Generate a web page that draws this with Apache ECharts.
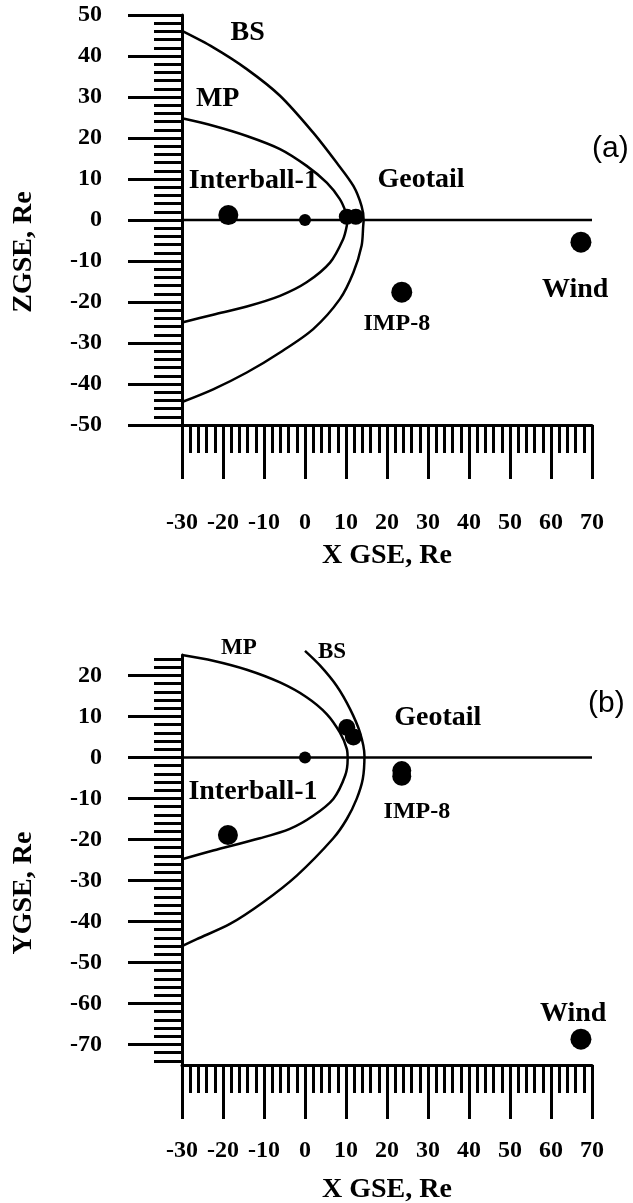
<!DOCTYPE html>
<html>
<head>
<meta charset="utf-8">
<script src="https://cdn.jsdelivr.net/npm/echarts@6/dist/echarts.min.js"></script>
<style>
  html, body { margin: 0; padding: 0; background: #fff; }
  #chart { width: 633px; height: 1203px; }
</style>
</head>
<body>
<div id="chart"></div>
<script>
// panel (a): X-Z plane, panel (b): X-Y plane (GSE, Re)
var mpA = [[-30,24.8],[-22.4,23.0],[-14.2,20.5],[-6.1,17.3],[0.4,13.2],[5.3,9.1],[8.5,5.1],[10.0,1.8],[10.3,0.2],[10.2,-1.4],[9.3,-4.7],[6.1,-10.4],[0.4,-15.2],[-6.1,-18.5],[-14.2,-21.1],[-22.4,-23.1],[-30,-25.0]];
var bsA = [[-30,46.1],[-22.4,42.1],[-14.2,36.8],[-6.1,30.3],[2.0,21.3],[7.7,14.0],[11.8,8.3],[13.8,3.4],[14.3,0],[14.2,-1.4],[13.8,-6.3],[11.8,-12.8],[8.5,-19.3],[2.0,-26.6],[-6.1,-32.3],[-14.2,-37.2],[-22.4,-41.3],[-30,-44.4]];
var mpB = [[-30,25.0],[-22.4,23.6],[-14.2,21.4],[-6.1,18.3],[0.4,14.7],[5.3,10.6],[8.5,6.1],[10.2,2.1],[10.4,-0.4],[9.8,-4.4],[6.9,-10.1],[2.0,-14.2],[-3.7,-17.4],[-11.0,-19.7],[-22.4,-22.7],[-30,-24.8]];
var bsB = [[0.0,26.0],[3.7,22.4],[7.7,17.5],[11.0,11.8],[13.4,6.1],[14.5,0.4],[14.1,-5.2],[12.6,-10.1],[10.2,-15.0],[6.9,-19.7],[-2.0,-28.8],[-10.2,-35.3],[-18.3,-40.6],[-26.4,-44.3],[-30,-46.0]];

var sunEarth = [[-30,0],[70,0]];
var earth = [[0,0]];

// spacecraft positions [x, z] / [x, y]
var interballA = [[-18.7,1.2]];
var geotailA = [[10.2,0.8],[12.4,0.8]];
var imp8A = [[23.6,-17.6]];
var windA = [[67.3,-5.4]];

var interballB = [[-18.8,-18.9]];
var geotailB = [[10.2,7.3],[11.8,5.0]];
var imp8B = [[23.6,-3.2],[23.6,-4.6]];
var windB = [[67.3,-68.7]];

// text labels [x, y, text]
var notesA = [[-14.0,45.7,'BS'],[-21.3,29.5,'MP'],[-12.6,9.5,'Interball-1'],[28.3,9.9,'Geotail'],[22.4,-25.2,'IMP-8'],[65.9,-17.1,'Wind']];
var notesB = [[-16.1,26.7,'MP'],[6.6,25.7,'BS'],[32.4,9.6,'Geotail'],[-12.7,-8.4,'Interball-1'],[27.3,-13.3,'IMP-8'],[65.4,-62.6,'Wind']];

var xTicks = [-30,-20,-10,0,10,20,30,40,50,60,70];
var yTicksA = [-50,-40,-30,-20,-10,0,10,20,30,40,50];
var yTicksB = [-70,-60,-50,-40,-30,-20,-10,0,10,20];
var yMinorB = [];
for (var v = -74; v <= 24; v += 2) yMinorB.push(v);

var serif = '"Liberation Serif", "Times New Roman", serif';
var lineStyle = {color: '#000', width: 3};

function xAx(grid, margin, gap) {
  return {
    type: 'value', gridIndex: grid, min: xTicks[0], max: xTicks[xTicks.length - 1], interval: 10,
    axisLine: {show: true, onZero: false, lineStyle: lineStyle},
    axisTick: {show: true, length: 54, lineStyle: lineStyle},
    minorTick: {show: true, splitNumber: 5, length: 28, lineStyle: lineStyle},
    splitLine: {show: false}, minorSplitLine: {show: false},
    axisLabel: {margin: margin, color: '#000', fontSize: 24, fontWeight: 'bold', fontFamily: serif},
    name: 'X GSE, Re', nameLocation: 'middle', nameGap: gap,
    nameTextStyle: {color: '#000', fontSize: 28, fontWeight: 'bold', fontFamily: serif}
  };
}

function noteSize(panel, t) {
  if (t === 'IMP-8') return 24;
  if (panel === 'b' && (t === 'MP' || t === 'BS')) return 23;
  return 28;
}

function curve(data, yIdx, xIdx) {
  return {type: 'line', xAxisIndex: xIdx, yAxisIndex: yIdx, data: data, smooth: 0.3,
    showSymbol: false, clip: false, lineStyle: {color: '#000', width: 2.5}, silent: true};
}
function dots(data, size, yIdx, xIdx) {
  return {type: 'scatter', xAxisIndex: xIdx, yAxisIndex: yIdx, data: data, symbolSize: size,
    itemStyle: {color: '#000', opacity: 1}, silent: true};
}
function notes(list, panel, yIdx, xIdx) {
  return {type: 'scatter', xAxisIndex: xIdx, yAxisIndex: yIdx, symbolSize: 0, silent: true, clip: false,
    itemStyle: {color: '#000', opacity: 1},
    data: list.map(function (n) {
      return {value: [n[0], n[1]], name: n[2],
        label: {show: true, position: 'inside', formatter: n[2], color: '#000', opacity: 1,
          textBorderWidth: 0, fontSize: noteSize(panel, n[2]), fontWeight: 'bold', fontFamily: serif}};
    })};
}

var chart = echarts.init(document.getElementById('chart'), null, {renderer: 'canvas'});
var option = {
  animation: false,
  backgroundColor: '#fff',
  textStyle: {fontFamily: serif},
  grid: [
    {left: 182, top: 15, width: 410, height: 410, outerBoundsMode: 'none'},
    {left: 182, top: 655, width: 410, height: 410, outerBoundsMode: 'none'}
  ],
  xAxis: [xAx(0, 86, 117), xAx(1, 74, 111)],
  yAxis: [
    {type: 'value', gridIndex: 0, min: yTicksA[0], max: yTicksA[yTicksA.length - 1], interval: 10,
      axisLine: {show: true, onZero: false, lineStyle: lineStyle},
      axisTick: {show: true, length: 54, lineStyle: lineStyle},
      minorTick: {show: true, splitNumber: 5, length: 28, lineStyle: lineStyle},
      splitLine: {show: false}, minorSplitLine: {show: false},
      axisLabel: {margin: 80, color: '#000', fontSize: 24, fontWeight: 'bold', fontFamily: serif}},
    {type: 'value', gridIndex: 1, min: -75, max: 25, position: 'left',
      axisLine: {show: true, onZero: false, lineStyle: lineStyle},
      axisTick: {show: true, length: 54, lineStyle: lineStyle, customValues: yTicksB},
      splitLine: {show: false},
      axisLabel: {margin: 80, color: '#000', fontSize: 24, fontWeight: 'bold', fontFamily: serif, customValues: yTicksB}},
    // minor ticks for panel b
    {type: 'value', gridIndex: 1, min: -75, max: 25, position: 'left', offset: 0,
      axisLine: {show: false, onZero: false},
      axisTick: {show: true, length: 28, lineStyle: lineStyle, customValues: yMinorB},
      splitLine: {show: false},
      axisLabel: {show: false}}
  ],
  graphic: [
    {type: 'text', x: 24, y: 252, rotation: Math.PI / 2,
      style: {text: 'ZGSE, Re', fill: '#000', fontSize: 28, fontWeight: 'bold', fontFamily: serif, align: 'center', verticalAlign: 'middle'}},
    {type: 'text', x: 24, y: 893, rotation: Math.PI / 2,
      style: {text: 'YGSE, Re', fill: '#000', fontSize: 28, fontWeight: 'bold', fontFamily: serif, align: 'center', verticalAlign: 'middle'}},
    {type: 'text', x: 592, y: 149,
      style: {text: '(a)', fill: '#000', fontSize: 30, fontFamily: '"Liberation Sans", Arial, sans-serif', align: 'left', verticalAlign: 'middle'}},
    {type: 'text', x: 588, y: 704,
      style: {text: '(b)', fill: '#000', fontSize: 30, fontFamily: '"Liberation Sans", Arial, sans-serif', align: 'left', verticalAlign: 'middle'}}
  ],
  series: [
    // panel a
    curve(sunEarth, 0, 0),
    curve(mpA, 0, 0),
    curve(bsA, 0, 0),
    dots(earth, 12, 0, 0),
    dots(interballA, 20, 0, 0),
    dots(geotailA, 16, 0, 0),
    dots(imp8A, 21, 0, 0),
    dots(windA, 21, 0, 0),
    notes(notesA, 'a', 0, 0),
    // panel b
    curve(sunEarth, 1, 1),
    curve(mpB, 1, 1),
    curve(bsB, 1, 1),
    dots(earth, 12, 1, 1),
    dots(interballB, 20, 1, 1),
    dots(geotailB, 17, 1, 1),
    dots(imp8B, 19, 1, 1),
    dots(windB, 21, 1, 1),
    notes(notesB, 'b', 1, 1)
  ]
};
chart.setOption(option);
</script>
</body>
</html>
